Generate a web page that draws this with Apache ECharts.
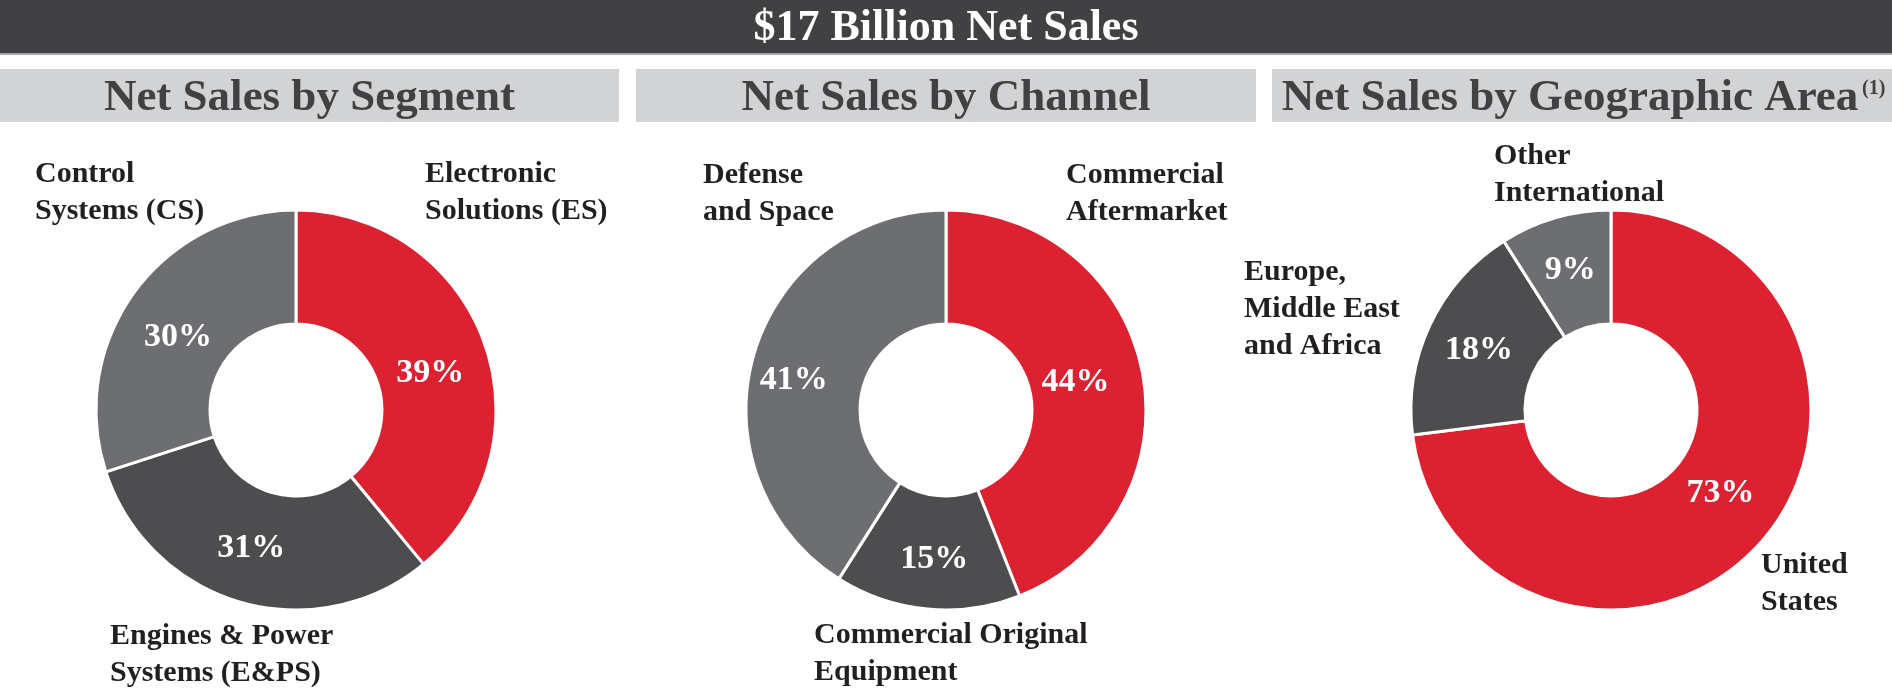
<!DOCTYPE html>
<html>
<head>
<meta charset="utf-8">
<title>$17 Billion Net Sales</title>
<script src="https://cdn.jsdelivr.net/npm/echarts@6/dist/echarts.min.js"></script>
<style>
  html, body { margin: 0; padding: 0; background: #fff; }
  #main { width: 1892px; height: 688px; }
</style>
</head>
<body>
<div id="main"></div>
<script>
// data
var segmentNames = ['Electronic\nSolutions (ES)', 'Engines & Power\nSystems (E&PS)', 'Control\nSystems (CS)'];
var segmentValues = [39, 31, 30];
var channelNames = ['Commercial\nAftermarket', 'Commercial Original\nEquipment', 'Defense\nand Space'];
var channelValues = [44, 15, 41];
var geoNames = ['United\nStates', 'Europe,\nMiddle East\nand Africa', 'Other\nInternational'];
var geoValues = [73, 18, 9];

var mainTitle = '$17 Billion Net Sales';
var panelTitles = ['Net Sales by Segment', 'Net Sales by Channel', 'Net Sales by Geographic Area'];

// layout (kept apart from the data)
var colors = ['#dc2130', '#4d4d4f', '#6d6e71'];
var serif = '"Liberation Serif", "Times New Roman", serif';
var centers = [[296, 410], [946, 410], [1611, 410]];
var panelBoxes = [[0, 619], [636, 1256], [1272, 1892]];
// top-left of each name label, same order as the names
var namePos = [
    [[425, 156], [110, 618], [35, 156]],
    [[1066, 157], [814, 617], [703, 157]],
    [[1761, 547], [1244, 254], [1494, 138]]
];
// small nudges of the % labels away from the ring middle
var pctOffsets = [
    [[-3, 13], [-4, -2], [0, 13]],
    [[-14, 0], [2, 4], [-12, 11]],
    [[0, -13], [0, 2], [0, 0]]
];

var dom = document.getElementById('main');
var myChart = echarts.init(dom);

function makeData(names, values, idx) {
    return names.map(function (n, i) {
        return {
            name: n,
            value: values[i],
            itemStyle: { color: colors[i] },
            label: { offset: pctOffsets[idx][i] }
        };
    });
}

function donut(names, values, idx) {
    return {
        type: 'pie',
        center: centers[idx],
        radius: [86, 200],
        startAngle: 90,
        clockwise: true,
        animation: false,
        silent: true,
        itemStyle: { borderColor: '#fff', borderWidth: 3 },
        label: {
            show: true,
            position: 'inside',
            formatter: '{c}%',
            color: '#fff',
            fontFamily: serif,
            fontWeight: 'bold',
            fontSize: 34
        },
        labelLine: { show: false },
        data: makeData(names, values, idx)
    };
}

var graphics = [
    { type: 'rect', shape: { x: 0, y: 0, width: 1892, height: 53 }, style: { fill: '#414042' } },
    { type: 'rect', shape: { x: 0, y: 53, width: 1892, height: 2 }, style: { fill: '#a7a9ac' } },
    {
        type: 'text', x: 946, y: 29,
        style: { text: mainTitle, fill: '#fff', font: 'bold 44px ' + serif, align: 'center', verticalAlign: 'middle' }
    }
];

panelBoxes.forEach(function (b, i) {
    graphics.push({ type: 'rect', shape: { x: b[0], y: 69, width: b[1] - b[0], height: 53 }, style: { fill: '#d1d3d4' } });
    graphics.push({
        type: 'text', x: (b[0] + b[1]) / 2 - (i === 2 ? 12 : 0), y: 98,
        style: { text: panelTitles[i], fill: '#414042', font: 'bold 45px ' + serif, align: 'center', verticalAlign: 'middle' }
    });
});
graphics.push({
    type: 'text', x: 1862, y: 89,
    style: { text: '(1)', fill: '#414042', font: 'bold 20px ' + serif, align: 'left', verticalAlign: 'middle' }
});

[segmentNames, channelNames, geoNames].forEach(function (names, k) {
    names.forEach(function (n, i) {
        graphics.push({
            type: 'text', x: namePos[k][i][0], y: namePos[k][i][1],
            style: { text: n, fill: '#231f20', font: 'bold 30px ' + serif, lineHeight: 37, align: 'left', verticalAlign: 'top' }
        });
    });
});

option = {
    backgroundColor: '#fff',
    graphic: graphics,
    series: [
        donut(segmentNames, segmentValues, 0),
        donut(channelNames, channelValues, 1),
        donut(geoNames, geoValues, 2)
    ]
};

if (option && typeof option === 'object') {
    myChart.setOption(option, true);
}
</script>
</body>
</html>
